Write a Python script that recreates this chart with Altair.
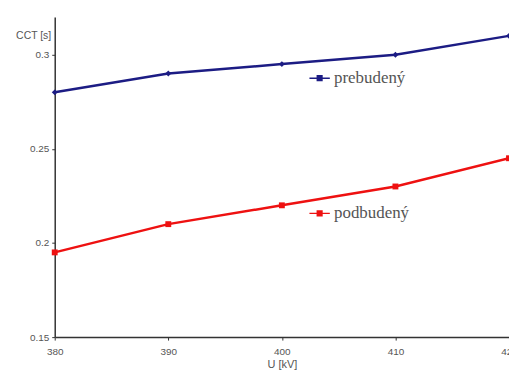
import altair as alt
import pandas as pd

u_kv = [380, 390, 400, 410, 420]
prebudeny = [0.280, 0.290, 0.295, 0.300, 0.310]
podbudeny = [0.195, 0.210, 0.220, 0.230, 0.245]
series_names = ["prebudený", "podbudený"]
series_colors = ["#1c1c84", "#ee1111"]
series_shapes = ["diamond", "square"]

rows = []
for u, v in zip(u_kv, prebudeny):
    rows.append({"U": u, "CCT": v, "serie": series_names[0]})
for u, v in zip(u_kv, podbudeny):
    rows.append({"U": u, "CCT": v, "serie": series_names[1]})
df = pd.DataFrame(rows)

x = alt.X("U:Q", scale=alt.Scale(domain=[380, 420], nice=False, zero=False),
          axis=alt.Axis(values=u_kv, title="U [kV]", grid=False, labelFontSize=10,
                        labelColor="#555555", titleFontSize=11, titleFontWeight="normal",
                        titleColor="#555555", tickSize=3, labelPadding=6, titlePadding=3,
                        labelFlush=False,
                        domainColor="#333333", tickColor="#333333", domainWidth=1.5,
                        labelFont="Liberation Sans", titleFont="Liberation Sans"))
y = alt.Y("CCT:Q", scale=alt.Scale(domain=[0.15, 0.32], nice=False, zero=False),
          axis=alt.Axis(values=[0.15, 0.2, 0.25, 0.3], format=".2~f", title="CCT [s]", grid=False,
                        labelFontSize=10, labelColor="#555555", titleFontSize=10.5,
                        titleFontWeight="normal", titleColor="#555555", titleAngle=0,
                        titleX=-4, titleY=24, titleAlign="right", titleBaseline="bottom",
                        tickSize=3, labelPadding=3, domainColor="#333333",
                        tickColor="#333333", domainWidth=1.5, labelFlush=False,
                        labelFont="Liberation Sans", titleFont="Liberation Sans"))
color_scale = alt.Scale(domain=series_names, range=series_colors)
color = alt.Color("serie:N", scale=color_scale,
                  legend=alt.Legend(title=None, orient="none", legendX=256, legendY=51,
                                    rowPadding=117, labelFont="Liberation Serif",
                                    labelFontSize=17, labelColor="#555555",
                                    symbolType="M-1,-0.07H-0.3V-0.3H0.3V-0.07H1V0.07H0.3V0.3H-0.3V0.07H-1Z",
                                    symbolSize=420, symbolStrokeWidth=0, labelOffset=4))

base = alt.Chart(df)
lines = base.mark_line(strokeWidth=2.5).encode(x=x, y=y, color=color)
pts_layers = []
for name, shp in zip(series_names, series_shapes):
    pts_layers.append(
        base.transform_filter(alt.datum.serie == name)
        .mark_point(filled=True, size=35, opacity=1, shape=shp)
        .encode(x=x, y=y, color=alt.Color("serie:N", scale=color_scale, legend=None))
    )

chart = alt.layer(lines, *pts_layers).properties(
    width=457, height=322,
    autosize=alt.AutoSizeParams(type="none"),
    padding={"left": 47, "top": 8, "right": 0, "bottom": 32},
).configure_view(stroke=None)

chart.save("out.html", embed_options={"renderer": "svg", "actions": False})
